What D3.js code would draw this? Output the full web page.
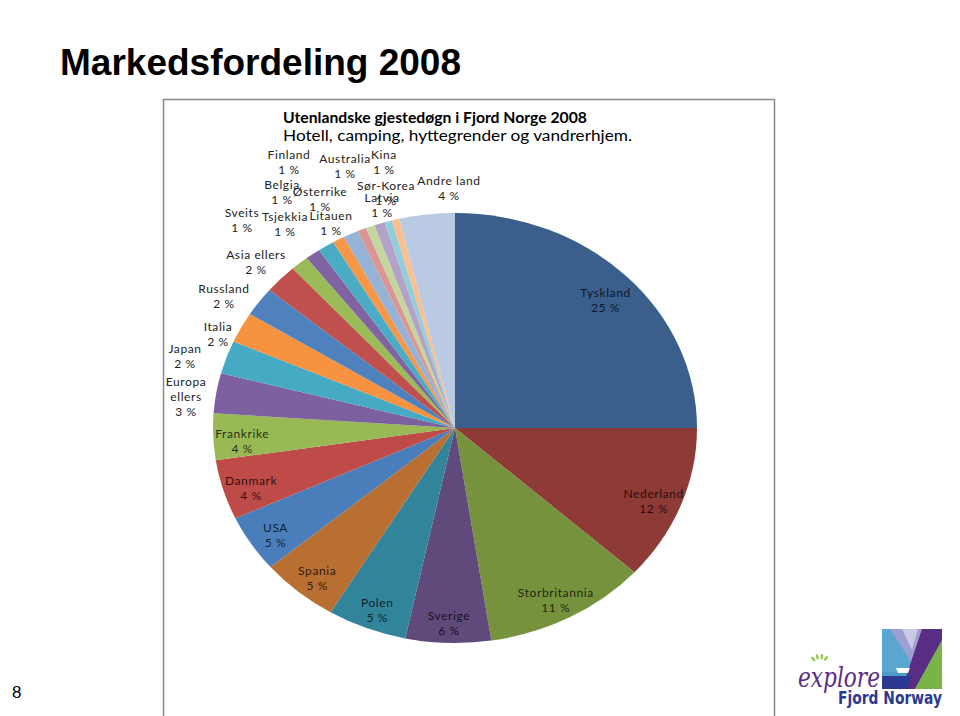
<!DOCTYPE html>
<html><head><meta charset="utf-8">
<script src="https://cdn.jsdelivr.net/npm/d3@7/dist/d3.min.js"></script>
<style>
html,body{margin:0;padding:0;background:#fff;}
svg text{font-family:Lato,"Open Sans",sans-serif;}
</style></head>
<body>
<svg id="chart" width="960" height="716"></svg>
<script>
// ---------- DATA ----------
const categories = ["Tyskland","Nederland","Storbritannia","Sverige","Polen","Spania","USA","Danmark","Frankrike","Europa ellers","Japan","Italia","Russland","Asia ellers","Sveits","Tsjekkia","Finland","Belgia","Litauen","Østerrike","Australia","Sør-Korea","Latvia","Kina","Andre land"];
const shares = [25,11.7,10.9,5.7,5.3,5.2,4.3,4.5,3.5,3.0,2.5,2.3,2.2,2.2,1.2,1.0,1.1,0.8,1.0,0.6,0.6,0.7,0.5,0.5,3.7];
const pctLabels = ["25 %","12 %","11 %","6 %","5 %","5 %","5 %","4 %","4 %","3 %","2 %","2 %","2 %","2 %","1 %","1 %","1 %","1 %","1 %","1 %","1 %","1 %","1 %","1 %","4 %"];
const chartTitle = "Utenlandske gjestedøgn i Fjord Norge 2008";
const chartSubtitle = "Hotell, camping, hyttegrender og vandrerhjem.";
const pageTitle = "Markedsfordeling 2008";

// ---------- STYLE / LAYOUT ----------
const colors = ["#3A5F8D","#8E3A37","#77923D","#5F4A7B","#32849B","#B96F31",
                "#4A7EBB","#BE4B48","#98B954","#7D60A0","#46AAC5","#F69240",
                "#4F81BD","#C0504D","#9BBB59","#8064A2","#4BACC6","#F79646",
                "#95B3D7","#D99694","#C3D69B","#B3A2C7","#93CDDD","#FAC090","#B9CAE2"];
const insideCount = 9;
// outside label anchors (center x, first baseline) for small slices
const outerLabelLayout = {
  "Europa ellers":[186,386,["Europa","ellers"]],
  "Japan":[185,353],
  "Italia":[218,331],
  "Russland":[224,293],
  "Asia ellers":[256,259],
  "Sveits":[242,217],
  "Tsjekkia":[285,221],
  "Finland":[289,159],
  "Belgia":[282,189],
  "Litauen":[331,220],
  "Østerrike":[320,196],
  "Australia":[345,163],
  "Sør-Korea":[386,190],
  "Latvia":[382,202],
  "Kina":[384,159],
  "Andre land":[449,185]
};

const svg = d3.select("#chart");
const cx = 455, cy = 428, rx = 242, ry = 215;

// page title
svg.append("text").attr("x",60).attr("y",75)
  .style("font-family","'Liberation Sans',Arial,sans-serif")
  .style("font-weight","bold").style("font-size","37px").attr("fill","#000")
  .text(pageTitle);

// page number
svg.append("text").attr("x",12).attr("y",698)
  .style("font-family","'Liberation Sans',Arial,sans-serif")
  .style("font-size","17px").attr("fill","#000").text("8");

// chart frame
svg.append("rect").attr("x",163.5).attr("y",99.5).attr("width",611).attr("height",620)
  .attr("fill","#fff").attr("stroke","#8a8a8a").attr("stroke-width",1.5);

// titles
svg.append("text").attr("x",283).attr("y",123)
  .style("font-weight","bold").style("font-size","14.5px").attr("fill","#000")
  .attr("textLength",304).attr("lengthAdjust","spacingAndGlyphs")
  .text(chartTitle);
svg.append("text").attr("x",283).attr("y",141)
  .style("font-size","14.5px").attr("fill","#000")
  .attr("textLength",349).attr("lengthAdjust","spacingAndGlyphs")
  .text(chartSubtitle);

// pie
const pie = d3.pie().sort(null).value(d => d).startAngle(0).endAngle(2*Math.PI);
const arcs = pie(shares);
const arc = d3.arc().innerRadius(0).outerRadius(rx);
const g = svg.append("g").attr("transform",`translate(${cx},${cy}) scale(1,${ry/rx})`);
g.selectAll("path").data(arcs).join("path")
  .attr("d",arc).attr("fill",(d,i)=>colors[i]);

// labels
const labelArc = d3.arc().innerRadius(rx*0.88).outerRadius(rx*0.88);
const lg = svg.append("g").style("font-size","12px").style("letter-spacing","0.6px");
arcs.forEach((d,i)=>{
  const name = categories[i];
  let x, y, lines;
  if (i < insideCount) {
    const c = labelArc.centroid(d);
    x = cx + c[0];
    y = cy + c[1]*ry/rx + 2.5;
    lines = [name, pctLabels[i]];
  } else {
    const L = outerLabelLayout[name];
    x = L[0]; y = L[1];
    lines = (L[2] ? L[2] : [name]).concat([pctLabels[i]]);
  }
  const t = lg.append("text").attr("text-anchor","middle")
    .attr("fill", i < insideCount ? "rgba(0,0,0,0.78)" : "#222");
  lines.forEach((s,k)=>{
    t.append("tspan").attr("x",x).attr("y",y + k*15).text(s);
  });
});

// logo (decorative)
const logo = svg.append("g");
logo.append("rect").attr("x",882).attr("y",629).attr("width",60).attr("height",60).attr("fill","#4B9CC8");
logo.append("polygon").attr("points","882,629 915,629 912,672 882,672").attr("fill","#5AA8D2");
logo.append("polygon").attr("points","890,629 922,629 915,668").attr("fill","#9C9FD0");
logo.append("polygon").attr("points","902,629 918,629 912,650").attr("fill","#C7C9E6");
logo.append("polygon").attr("points","922,629 942,629 942,640 915,689 902,689").attr("fill","#5B2C83");
logo.append("polygon").attr("points","942,640 942,689 915,689").attr("fill","#78B546");
logo.append("polygon").attr("points","882,676 912,676 906,689 882,689").attr("fill","#2B3990");
logo.append("polygon").attr("points","896,668 910,668 908,673 898,673").attr("fill","#fff");
logo.append("text").attr("x",798).attr("y",687)
  .style("font-family","'DejaVu Serif',serif").style("font-style","italic")
  .style("font-size","27px").attr("fill","#5B2C83")
  .attr("textLength",82).attr("lengthAdjust","spacingAndGlyphs").text("explore");
[[-40],[-15],[10],[35]].forEach(a=>{
  const ang = a[0]*Math.PI/180;
  logo.append("line").attr("x1",820+Math.sin(ang)*8).attr("y1",667-Math.cos(ang)*8)
    .attr("x2",820+Math.sin(ang)*13).attr("y2",667-Math.cos(ang)*13)
    .attr("stroke","#8DC63F").attr("stroke-width",2.2);
});
logo.append("text").attr("x",838).attr("y",704)
  .style("font-family","'DejaVu Sans',sans-serif").style("font-weight","bold")
  .style("font-size","17px").attr("fill","#2B3990")
  .attr("textLength",104).attr("lengthAdjust","spacingAndGlyphs").text("Fjord Norway");
</script>
</body></html>
